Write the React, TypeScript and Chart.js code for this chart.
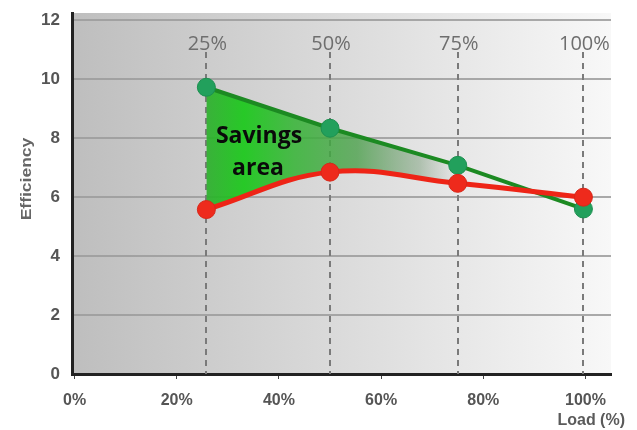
import React, { useEffect, useRef } from "react";
import { Chart, registerables } from "chart.js";

Chart.register(...registerables);

// ---- data ----
const loadLabels = ["25%", "50%", "75%", "100%"];
const loadX = [25.8, 50, 75, 99.6];
const standardEff = [5.58, 6.85, 6.47, 6.0]; // red curve
const improvedEff = [9.73, 8.34, 7.08, 5.6]; // green line
const yTickValues = [0, 2, 4, 6, 8, 10, 12];
const xTickValues = [0, 20, 40, 60, 80, 100];
const yTitle = "Efficiency";
const xTitle = "Load (%)";
const areaLines = ["Savings", "area"];

const decorPlugin = {
  id: "decor",
  beforeDraw(chart: any) {
    const { ctx, chartArea: a } = chart;
    ctx.save();
    ctx.fillStyle = "#ffffff";
    ctx.fillRect(0, 0, chart.width, chart.height);
    const g = ctx.createLinearGradient(a.left, 0, a.right, 0);
    g.addColorStop(0, "#bebebe");
    g.addColorStop(0.45, "#d8d8d8");
    g.addColorStop(0.85, "#efefef");
    g.addColorStop(1, "#f8f8f8");
    ctx.fillStyle = g;
    ctx.fillRect(a.left, a.top, a.right - a.left, a.bottom - a.top);
    ctx.restore();
  },
  beforeDatasetsDraw(chart: any) {
    const { ctx, chartArea: a, scales } = chart;
    ctx.save();
    ctx.strokeStyle = "#7a7a7a";
    ctx.lineWidth = 2;
    ctx.setLineDash([6, 5]);
    loadX.forEach((v) => {
      const px = Math.round(scales.x.getPixelForValue(v));
      ctx.beginPath();
      ctx.moveTo(px, 52);
      ctx.lineTo(px, a.bottom);
      ctx.stroke();
    });
    ctx.restore();
  },
  afterDatasetsDraw(chart: any) {
    const { ctx, scales } = chart;
    ctx.save();
    // top load labels
    ctx.fillStyle = "#6e6e6e";
    ctx.font = "20px 'Open Sans'";
    ctx.textAlign = "center";
    ctx.textBaseline = "middle";
    loadX.forEach((v, i) => {
      ctx.fillText(loadLabels[i], scales.x.getPixelForValue(v) + 1, 44);
    });
    // savings area text
    ctx.fillStyle = "#0a0a0a";
    ctx.font = "bold 23px 'Open Sans'";
    ctx.textBaseline = "alphabetic";
    ctx.fillText(areaLines[0], 259, 143);
    ctx.fillText(areaLines[1], 258, 175);
    // axis titles
    ctx.fillStyle = "#5a5a5a";
    ctx.font = "bold 16px 'Liberation Sans'";
    ctx.textAlign = "right";
    ctx.fillText(xTitle, 625, 425);
    ctx.translate(31, 179);
    ctx.rotate(-Math.PI / 2);
    ctx.scale(1.25, 1);
    ctx.fillStyle = "#666666";
    ctx.font = "bold 14px 'Liberation Sans'";
    ctx.textAlign = "center";
    ctx.fillText(yTitle, 0, 0);
    ctx.restore();
  },
};

export default function App() {
  const ref = useRef<HTMLCanvasElement>(null);
  useEffect(() => {
    if (!ref.current) return;
    const chart = new Chart(ref.current, {
      type: "line",
      data: {
        datasets: [
          {
            label: "Standard",
            data: loadX.map((x, i) => ({ x, y: standardEff[i] })),
            borderColor: "#ee2416",
            borderWidth: 5,
            tension: 0.4,
            pointRadius: 9,
            pointBackgroundColor: "#ee2a1c",
            pointBorderColor: "#d8281a",
            pointBorderWidth: 1,
            fill: false,
          },
          {
            label: "Improved",
            data: loadX.map((x, i) => ({ x, y: improvedEff[i] })),
            borderColor: "#1c8a22",
            borderWidth: 4,
            tension: 0,
            pointRadius: 9,
            pointBackgroundColor: "#22a05c",
            pointBorderColor: "#1c9050",
            pointBorderWidth: 1,
            fill: "-1",
            backgroundColor: (c: any) => {
              const chart = c.chart;
              if (!chart.chartArea || !chart.scales.x) return "rgba(60,170,60,0.8)";
              const x0 = chart.scales.x.getPixelForValue(loadX[0]);
              const x1 = chart.scales.x.getPixelForValue(loadX[2]);
              const g = chart.ctx.createLinearGradient(x0, 0, x1, 0);
              g.addColorStop(0, "rgba(45,175,45,0.92)");
              g.addColorStop(0.15, "rgba(25,200,25,0.92)");
              g.addColorStop(0.35, "rgba(55,180,55,0.88)");
              g.addColorStop(0.6, "rgba(75,160,75,0.8)");
              g.addColorStop(0.85, "rgba(110,150,110,0.45)");
              g.addColorStop(1, "rgba(150,160,150,0.0)");
              return g;
            },
          },
        ],
      },
      options: {
        animation: false,
        responsive: true,
        maintainAspectRatio: false,
        layout: { padding: { top: 13, right: 26, left: 0, bottom: 0 } },
        plugins: { legend: { display: false }, tooltip: { enabled: false } },
        scales: {
          x: {
            type: "linear",
            min: -0.5,
            max: 105,
            afterBuildTicks: (s: any) => {
              s.ticks = xTickValues.map((v) => ({ value: v }));
            },
            afterFit: (s: any) => {
              s.height = 56;
              s.paddingLeft = 0;
              s.paddingRight = 0;
            },
            grid: { drawOnChartArea: false, tickLength: 5, color: "#444", lineWidth: 1 },
            border: { color: "#222", width: 3 },
            ticks: {
              padding: 12,
              color: "#555",
              font: { family: "'Liberation Sans'", size: 16, weight: "bold" },
              callback: (v: any) => `${v}%`,
              maxRotation: 0,
            },
          },
          y: {
            min: 0,
            max: 12.25,
            afterBuildTicks: (s: any) => {
              s.ticks = yTickValues.map((v) => ({ value: v }));
            },
            afterFit: (s: any) => {
              s.width = 72;
              s.paddingTop = 0;
              s.paddingBottom = 0;
            },
            grid: { color: "rgba(155,155,155,0.85)", lineWidth: 2, drawTicks: false },
            border: { color: "#222", width: 3 },
            ticks: {
              padding: 12,
              color: "#555",
              font: { family: "'Liberation Sans'", size: 17, weight: "bold" },
            },
          },
        },
      },
      plugins: [decorPlugin],
    });
    return () => chart.destroy();
  }, []);
  return (
    <div style={{ position: "fixed", left: 0, top: 0, width: 637, height: 430, background: "#fff" }}>
      <canvas ref={ref} />
    </div>
  );
}
